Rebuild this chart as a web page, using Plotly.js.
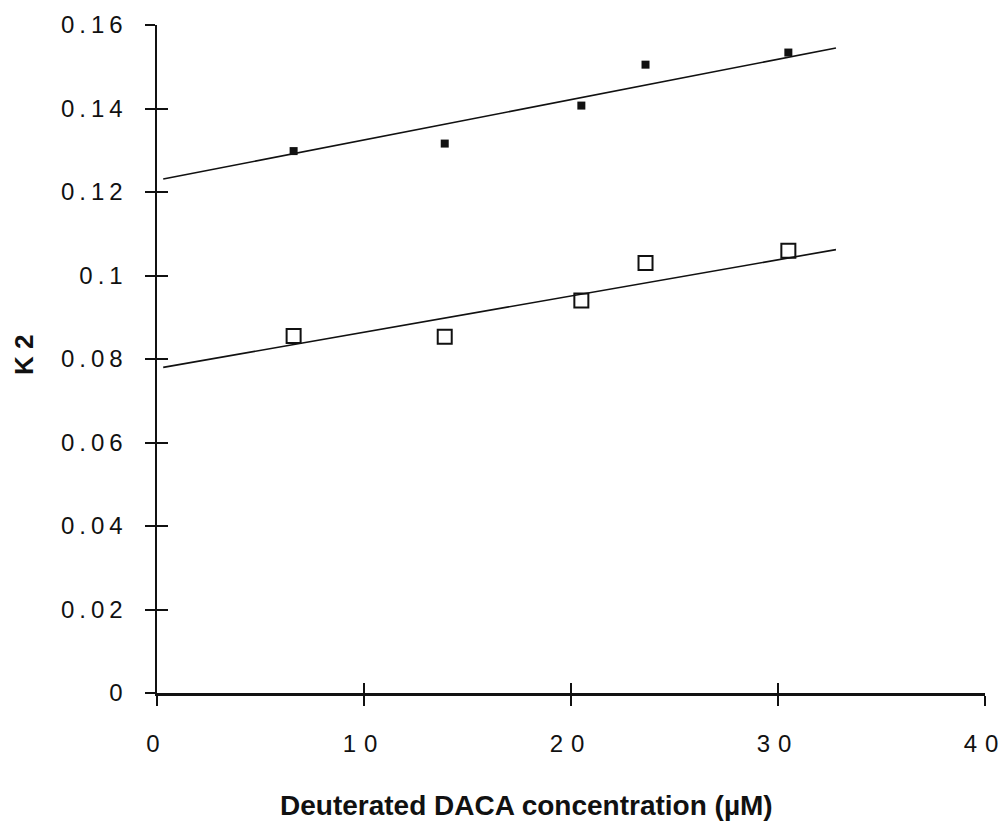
<!DOCTYPE html>
<html>
<head>
<meta charset="utf-8">
<script src="https://cdn.plot.ly/plotly-3.0.1.min.js"></script>
<style>
  html, body { margin: 0; padding: 0; background: #fff; }
  #chart { width: 1006px; height: 821px; }
</style>
</head>
<body>
<div id="chart"></div>
<script>
// Deuterated DACA concentration (µM)
const concentration = [6.6, 13.9, 20.5, 23.6, 30.5];
// K2 values, two series (filled and open squares)
const k2Filled = [0.1298, 0.1316, 0.1407, 0.1505, 0.1534];
const k2Open   = [0.0855, 0.0853, 0.0940, 0.1030, 0.1059];
// Fitted straight lines, drawn between their end points
const fitX      = [0.3, 32.8];
const fitFilled = [0.1231, 0.1545];
const fitOpen   = [0.0780, 0.1062];

const xTicks = [0, 10, 20, 30, 40];
// tick numerals are typeset with a gap between the digits
const xTickText = ['0', '1\u20040', '2\u20040', '3\u20040', '4\u20040'];
const yTicks = [0, 0.02, 0.04, 0.06, 0.08, 0.1, 0.12, 0.14, 0.16];
const yTickText = ['0', '0.02', '0.04', '0.06', '0.08', '0.1', '0.12', '0.14', '0.16'];

const xTitle = 'Deuterated DACA concentration (µM)';
const yTitle = 'K 2';

const ink = '#111';
const tickFont = { family: 'Liberation Sans, Arial, sans-serif', size: 24, color: ink };
const xTitleFont = { family: 'Liberation Sans, Arial, sans-serif', size: 28, color: ink, weight: 'bold' };
const yTitleFont = { family: 'Liberation Sans, Arial, sans-serif', size: 26, color: ink, weight: 'bold' };

const traces = [
  { x: fitX, y: fitFilled, mode: 'lines', line: { color: ink, width: 1.6 }, hoverinfo: 'skip' },
  { x: fitX, y: fitOpen, mode: 'lines', line: { color: ink, width: 1.6 }, hoverinfo: 'skip' },
  { x: concentration, y: k2Filled, mode: 'markers',
    marker: { symbol: 'square', size: 8, color: ink } },
  { x: concentration, y: k2Open, mode: 'markers',
    marker: { symbol: 'square-open', size: 14, color: ink, line: { width: 2, color: ink } } },
  // invisible trace so the companion axes are drawn
  { x: [0], y: [0], xaxis: 'x2', yaxis: 'y2', mode: 'markers',
    marker: { opacity: 0 }, hoverinfo: 'skip' }
];

const layout = {
  width: 1006, height: 821,
  margin: { l: 157, r: 21, t: 25, b: 128 },
  paper_bgcolor: '#fff', plot_bgcolor: '#fff',
  showlegend: false,
  xaxis: {
    range: [0, 40], tickvals: xTicks, ticktext: xTickText,
    ticks: 'outside', ticklen: 10, tickwidth: 2, tickcolor: ink,
    showline: true, linewidth: 2.5, linecolor: ink,
    showgrid: false, zeroline: false, tickfont: tickFont,
    ticklabelstandoff: 18, ticklabelshift: -4
  },
  yaxis: {
    range: [0, 0.16], tickvals: yTicks, ticktext: yTickText,
    ticks: 'outside', ticklen: 10, tickwidth: 2, tickcolor: ink,
    showline: true, linewidth: 2.5, linecolor: ink,
    showgrid: false, zeroline: false, tickfont: tickFont, ticklabelstandoff: 12
  },
  // companion axes that draw the inner half of each crossing tick mark
  xaxis2: {
    overlaying: 'x', anchor: 'y', range: [0, 40], tickvals: xTicks,
    ticks: 'inside', ticklen: 10, tickwidth: 2, tickcolor: ink,
    showticklabels: false, showline: false, showgrid: false, zeroline: false
  },
  yaxis2: {
    overlaying: 'y', anchor: 'x', range: [0, 0.16], tickvals: yTicks,
    ticks: 'inside', ticklen: 11, tickwidth: 2, tickcolor: ink,
    showticklabels: false, showline: false, showgrid: false, zeroline: false
  },
  annotations: [
    { text: xTitle, xref: 'paper', yref: 'paper', x: 0.4462, y: -0.1677,
      xanchor: 'center', yanchor: 'middle', showarrow: false, font: xTitleFont },
    { text: yTitle, xref: 'paper', yref: 'paper', x: -0.1606, y: 0.506,
      xanchor: 'center', yanchor: 'middle', textangle: -90, showarrow: false, font: yTitleFont }
  ]
};

Plotly.newPlot('chart', traces, layout, { staticPlot: true }).then(() => {
  // wide letter spacing of the vertical-axis numerals
  document.querySelectorAll('.ytick text').forEach(t => { t.style.letterSpacing = '5px'; });
});
</script>
</body>
</html>
